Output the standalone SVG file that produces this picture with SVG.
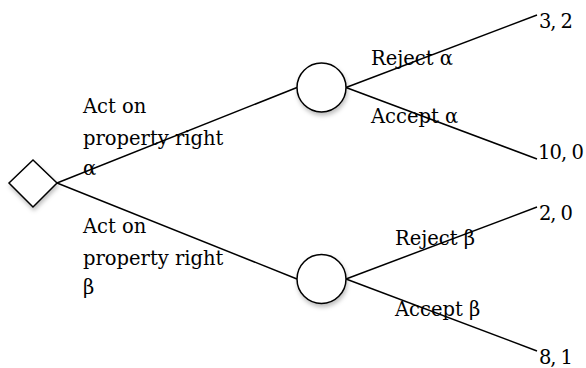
<svg xmlns="http://www.w3.org/2000/svg" width="586" height="368" viewBox="0 0 586 368">
<defs>
<filter id="sh" x="-30%" y="-30%" width="160%" height="160%">
<feDropShadow dx="1" dy="3" stdDeviation="2" flood-color="#000" flood-opacity="0.25"/>
</filter>
</defs>
<style>
.e{stroke:#000;stroke-width:1.5;fill:none}
.n{fill:#fff;stroke:#000;stroke-width:1.5;filter:url(#sh)}
text{font-family:"DejaVu Serif","Liberation Serif",serif;font-size:19.5px;fill:#000}
</style>
<rect width="586" height="368" fill="#fff"/>
<g id="connectors">
<line class="e" x1="57" y1="183" x2="297" y2="87.5"/>
<line class="e" x1="57" y1="183" x2="297" y2="279"/>
<line class="e" x1="346" y1="87.5" x2="537" y2="15"/>
<line class="e" x1="346" y1="87.5" x2="537" y2="159"/>
<line class="e" x1="346" y1="279" x2="537" y2="207"/>
<line class="e" x1="346" y1="279" x2="537" y2="351"/>
</g>
<g id="root"><polygon class="n" points="9,183 33,160 57,183 33,207"/></g>
<g id="chanceA"><circle class="n" cx="321.5" cy="87.5" r="24.5"/></g>
<g id="chanceB"><circle class="n" cx="321.5" cy="279" r="24.5"/></g>
<g id="labels">
<text x="83" y="113">Act on</text>
<text x="83" y="145">property right</text>
<text x="83" y="175">α</text>
<text x="83" y="233">Act on</text>
<text x="83" y="265">property right</text>
<text x="83" y="294">β</text>
<text x="371" y="65">Reject α</text>
<text x="371" y="123">Accept α</text>
<text x="395" y="245">Reject β</text>
<text x="395" y="316">Accept β</text>
<text x="539" y="28" textLength="34">3, 2</text>
<text x="538" y="159" textLength="46">10, 0</text>
<text x="539" y="220" textLength="34">2, 0</text>
<text x="539" y="364" textLength="34">8, 1</text>
</g>
</svg>
